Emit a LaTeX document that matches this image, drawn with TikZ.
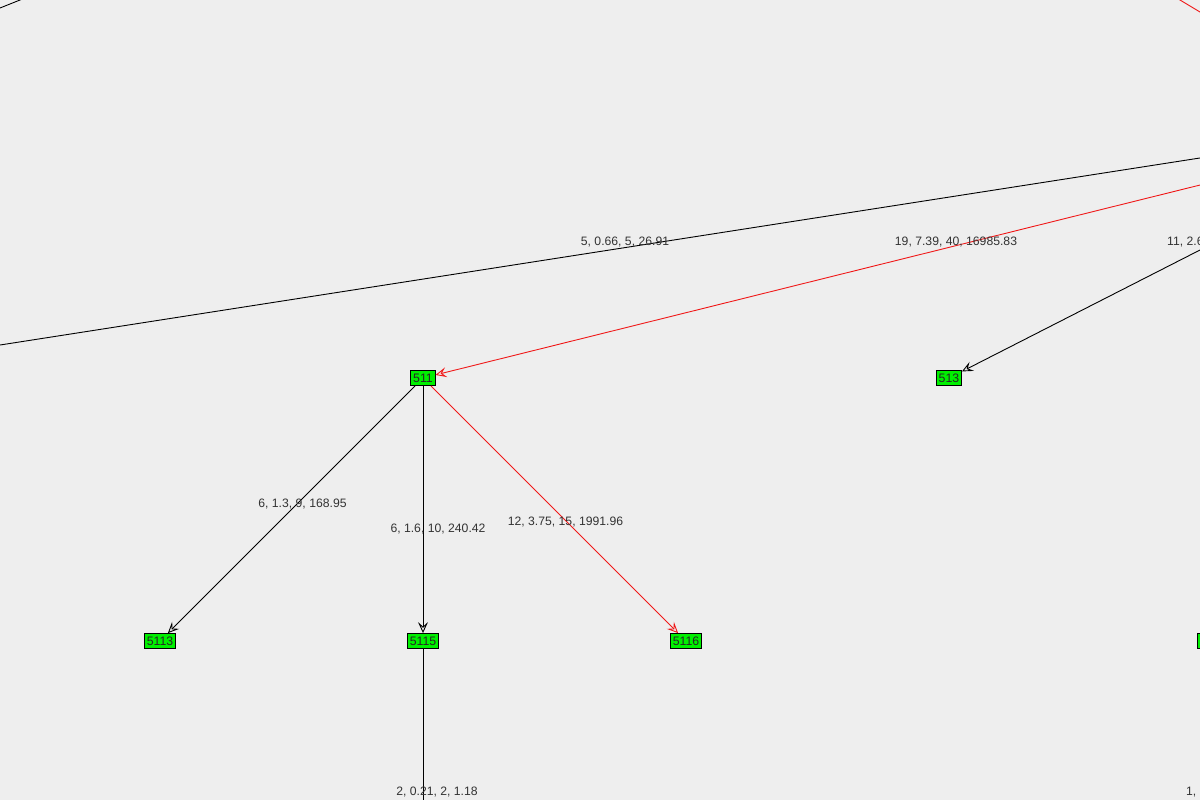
\documentclass[tikz,border=0pt]{standalone}
\usepackage{fontspec}
\setmainfont{Liberation Sans}
\usetikzlibrary{arrows.meta}
\definecolor{bg}{HTML}{EEEEEE}
\definecolor{ngreen}{HTML}{00F000}
\definecolor{ered}{HTML}{F01818}
\definecolor{ltext}{HTML}{333333}
\begin{document}
\begin{tikzpicture}[x=1pt,y=-1pt,
  vtx/.style={draw=black, fill=ngreen, line width=0.8pt, inner xsep=2.3pt, inner ysep=0pt, minimum height=15pt, font=\fontsize{12.3}{12}\selectfont, text=black!85},
  elab/.style={font=\fontsize{12.2}{12}\selectfont, text=ltext, inner sep=0pt},
  arr/.style={-{Stealth[open,length=11pt,width=10pt,inset=4.5pt]}},
  edge/.style={line width=0.9pt, black},
  redge/.style={line width=0.9pt, ered},
]
\useasboundingbox (0,0) rectangle (1200,800);
\fill[bg] (0,0) rectangle (1200,800);
\clip (0,0) rectangle (1200,800);

% nodes
\node[vtx] (n511) at (423,378) {511};
\node[vtx] (n513) at (949,378) {513};
\node[vtx] (n5113) at (160,641) {5113};
\node[vtx] (n5115) at (423,641) {5115};
\node[vtx] (n5116) at (686,641) {5116};
\node[vtx, minimum width=30pt] (nR) at (1212,641) {};

% off-frame ends
\coordinate (tlA) at (-50,28);
\coordinate (tlB) at (70,-20);
\coordinate (trA) at (1150,-18);
\coordinate (trB) at (1250,42);
\coordinate (longR) at (1300,142.4);
\coordinate (longL) at (-100,360.6);
\coordinate (redSrc) at (1300,160.2);
\coordinate (blkSrc) at (1300,199);
\coordinate (down1) at (423,900);
\coordinate (down2) at (1212,900);

% edges
\draw[edge] (tlA) -- (tlB);
\draw[redge] (trA) -- (trB);
\draw[edge] (longR) -- (longL);
\draw[redge, arr] (redSrc) -- (n511);
\draw[edge, arr] (blkSrc) -- (n513);
\draw[edge, arr] (n511) -- (n5113);
\draw[edge, arr] (n511) -- (n5115);
\draw[redge, arr] (n511) -- (n5116);
\draw[edge] (n5115) -- (down1);
\draw[edge] (nR) -- (down2);

% edge labels
\node[elab] (l1) at (625,242.5) {5, 0.66, 5, 26.91};
\node[elab] (l2) at (956,242.5) {19, 7.39, 40, 16985.83};
\node[elab, anchor=west] (l3) at (1167,242.5) {11, 2.6};
\node[elab] (l4) at (302.5,504.5) {6, 1.3, 9, 168.95};
\node[elab] (l5) at (438,529.5) {6, 1.6, 10, 240.42};
\node[elab] (l6) at (565.5,522.5) {12, 3.75, 15, 1991.96};
\node[elab] (l7) at (437,792.5) {2, 0.21, 2, 1.18};
\node[elab, anchor=west] (l8) at (1186,792.5) {1,};
\end{tikzpicture}
\end{document}
